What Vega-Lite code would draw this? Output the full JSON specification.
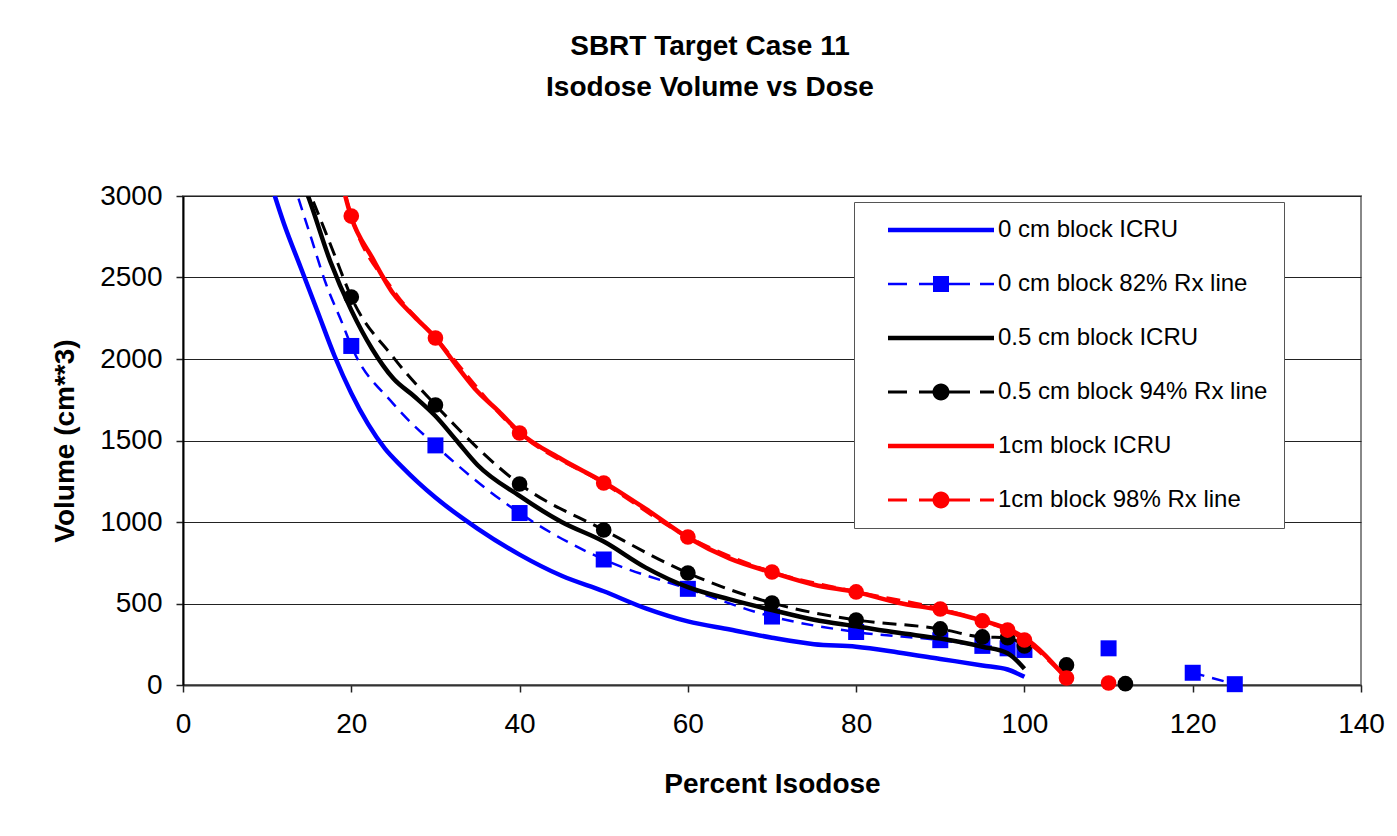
{
  "$schema": "https://vega.github.io/schema/vega-lite/v6.json",
  "width": 1178,
  "height": 489,
  "autosize": {"type": "none"},
  "padding": {"left": 183, "top": 196, "right": 36, "bottom": 151},
  "background": "white",
  "title": {
    "text": ["SBRT Target Case 11", "Isodose Volume vs Dose"],
    "font": "Liberation Sans",
    "fontSize": 28,
    "fontWeight": "bold",
    "lineHeight": 41,
    "anchor": "middle",
    "dx": -62,
    "offset": 80,
    "color": "black"
  },
  "datasets": {
    "curves": [
      {"series": "0 cm block ICRU", "dose": 10, "volume": 3150},
      {"series": "0 cm block ICRU", "dose": 12, "volume": 2830},
      {"series": "0 cm block ICRU", "dose": 14, "volume": 2560},
      {"series": "0 cm block ICRU", "dose": 16, "volume": 2290},
      {"series": "0 cm block ICRU", "dose": 18, "volume": 2020},
      {"series": "0 cm block ICRU", "dose": 20, "volume": 1790},
      {"series": "0 cm block ICRU", "dose": 22, "volume": 1600},
      {"series": "0 cm block ICRU", "dose": 24, "volume": 1450},
      {"series": "0 cm block ICRU", "dose": 26, "volume": 1340},
      {"series": "0 cm block ICRU", "dose": 28, "volume": 1240},
      {"series": "0 cm block ICRU", "dose": 30, "volume": 1150},
      {"series": "0 cm block ICRU", "dose": 35, "volume": 960},
      {"series": "0 cm block ICRU", "dose": 40, "volume": 800},
      {"series": "0 cm block ICRU", "dose": 45, "volume": 670},
      {"series": "0 cm block ICRU", "dose": 50, "volume": 575},
      {"series": "0 cm block ICRU", "dose": 55, "volume": 470},
      {"series": "0 cm block ICRU", "dose": 60, "volume": 390},
      {"series": "0 cm block ICRU", "dose": 65, "volume": 340},
      {"series": "0 cm block ICRU", "dose": 70, "volume": 290},
      {"series": "0 cm block ICRU", "dose": 75, "volume": 250},
      {"series": "0 cm block ICRU", "dose": 80, "volume": 235},
      {"series": "0 cm block ICRU", "dose": 85, "volume": 200},
      {"series": "0 cm block ICRU", "dose": 90, "volume": 160},
      {"series": "0 cm block ICRU", "dose": 95, "volume": 120},
      {"series": "0 cm block ICRU", "dose": 98, "volume": 95},
      {"series": "0 cm block ICRU", "dose": 100, "volume": 50},

      {"series": "0 cm block 82% Rx line", "dose": 13, "volume": 3100},
      {"series": "0 cm block 82% Rx line", "dose": 15, "volume": 2780},
      {"series": "0 cm block 82% Rx line", "dose": 17, "volume": 2460},
      {"series": "0 cm block 82% Rx line", "dose": 19, "volume": 2210},
      {"series": "0 cm block 82% Rx line", "dose": 20, "volume": 2080},
      {"series": "0 cm block 82% Rx line", "dose": 25, "volume": 1725},
      {"series": "0 cm block 82% Rx line", "dose": 30, "volume": 1470},
      {"series": "0 cm block 82% Rx line", "dose": 40, "volume": 1055},
      {"series": "0 cm block 82% Rx line", "dose": 50, "volume": 770},
      {"series": "0 cm block 82% Rx line", "dose": 60, "volume": 590},
      {"series": "0 cm block 82% Rx line", "dose": 70, "volume": 420},
      {"series": "0 cm block 82% Rx line", "dose": 80, "volume": 325},
      {"series": "0 cm block 82% Rx line", "dose": 90, "volume": 275},
      {"series": "0 cm block 82% Rx line", "dose": 95, "volume": 240},
      {"series": "0 cm block 82% Rx line", "dose": 98, "volume": 225},
      {"series": "0 cm block 82% Rx line", "dose": 100, "volume": 215},
      {"series": "0 cm block 82% Rx line", "dose": 104, "volume": null},
      {"series": "0 cm block 82% Rx line", "dose": 110, "volume": 225},
      {"series": "0 cm block 82% Rx line", "dose": 115, "volume": null},
      {"series": "0 cm block 82% Rx line", "dose": 120, "volume": 75},
      {"series": "0 cm block 82% Rx line", "dose": 125, "volume": 5},

      {"series": "0.5 cm block ICRU", "dose": 14, "volume": 3120},
      {"series": "0.5 cm block ICRU", "dose": 15, "volume": 2980},
      {"series": "0.5 cm block ICRU", "dose": 17.5, "volume": 2600},
      {"series": "0.5 cm block ICRU", "dose": 20, "volume": 2300},
      {"series": "0.5 cm block ICRU", "dose": 22.5, "volume": 2060},
      {"series": "0.5 cm block ICRU", "dose": 25, "volume": 1880},
      {"series": "0.5 cm block ICRU", "dose": 27.5, "volume": 1770},
      {"series": "0.5 cm block ICRU", "dose": 30, "volume": 1650},
      {"series": "0.5 cm block ICRU", "dose": 32.5, "volume": 1500},
      {"series": "0.5 cm block ICRU", "dose": 35, "volume": 1350},
      {"series": "0.5 cm block ICRU", "dose": 40, "volume": 1160},
      {"series": "0.5 cm block ICRU", "dose": 45, "volume": 1000},
      {"series": "0.5 cm block ICRU", "dose": 50, "volume": 880},
      {"series": "0.5 cm block ICRU", "dose": 55, "volume": 720},
      {"series": "0.5 cm block ICRU", "dose": 60, "volume": 600},
      {"series": "0.5 cm block ICRU", "dose": 65, "volume": 525},
      {"series": "0.5 cm block ICRU", "dose": 70, "volume": 460},
      {"series": "0.5 cm block ICRU", "dose": 75, "volume": 400},
      {"series": "0.5 cm block ICRU", "dose": 80, "volume": 360},
      {"series": "0.5 cm block ICRU", "dose": 85, "volume": 320},
      {"series": "0.5 cm block ICRU", "dose": 90, "volume": 285},
      {"series": "0.5 cm block ICRU", "dose": 95, "volume": 235},
      {"series": "0.5 cm block ICRU", "dose": 98, "volume": 195},
      {"series": "0.5 cm block ICRU", "dose": 100, "volume": 100},

      {"series": "0.5 cm block 94% Rx line", "dose": 14.5, "volume": 3090},
      {"series": "0.5 cm block 94% Rx line", "dose": 16, "volume": 2900},
      {"series": "0.5 cm block 94% Rx line", "dose": 18, "volume": 2640},
      {"series": "0.5 cm block 94% Rx line", "dose": 20, "volume": 2380},
      {"series": "0.5 cm block 94% Rx line", "dose": 25, "volume": 2010},
      {"series": "0.5 cm block 94% Rx line", "dose": 30, "volume": 1718},
      {"series": "0.5 cm block 94% Rx line", "dose": 40, "volume": 1233},
      {"series": "0.5 cm block 94% Rx line", "dose": 50, "volume": 951},
      {"series": "0.5 cm block 94% Rx line", "dose": 60, "volume": 687},
      {"series": "0.5 cm block 94% Rx line", "dose": 70, "volume": 503},
      {"series": "0.5 cm block 94% Rx line", "dose": 80, "volume": 399},
      {"series": "0.5 cm block 94% Rx line", "dose": 90, "volume": 344},
      {"series": "0.5 cm block 94% Rx line", "dose": 95, "volume": 295},
      {"series": "0.5 cm block 94% Rx line", "dose": 98, "volume": 290},
      {"series": "0.5 cm block 94% Rx line", "dose": 100, "volume": 240},
      {"series": "0.5 cm block 94% Rx line", "dose": 103, "volume": null},
      {"series": "0.5 cm block 94% Rx line", "dose": 105, "volume": 123},
      {"series": "0.5 cm block 94% Rx line", "dose": 108, "volume": null},
      {"series": "0.5 cm block 94% Rx line", "dose": 112, "volume": 8},

      {"series": "1cm block ICRU", "dose": 18, "volume": 3280},
      {"series": "1cm block ICRU", "dose": 20, "volume": 2870},
      {"series": "1cm block ICRU", "dose": 22.5, "volume": 2620},
      {"series": "1cm block ICRU", "dose": 25, "volume": 2400},
      {"series": "1cm block ICRU", "dose": 27.5, "volume": 2260},
      {"series": "1cm block ICRU", "dose": 30, "volume": 2130},
      {"series": "1cm block ICRU", "dose": 32.5, "volume": 1960},
      {"series": "1cm block ICRU", "dose": 35, "volume": 1800},
      {"series": "1cm block ICRU", "dose": 37.5, "volume": 1680},
      {"series": "1cm block ICRU", "dose": 40, "volume": 1550},
      {"series": "1cm block ICRU", "dose": 45, "volume": 1385},
      {"series": "1cm block ICRU", "dose": 50, "volume": 1245},
      {"series": "1cm block ICRU", "dose": 55, "volume": 1080},
      {"series": "1cm block ICRU", "dose": 60, "volume": 905},
      {"series": "1cm block ICRU", "dose": 65, "volume": 775},
      {"series": "1cm block ICRU", "dose": 70, "volume": 690},
      {"series": "1cm block ICRU", "dose": 75, "volume": 615},
      {"series": "1cm block ICRU", "dose": 80, "volume": 570},
      {"series": "1cm block ICRU", "dose": 85, "volume": 505},
      {"series": "1cm block ICRU", "dose": 90, "volume": 460},
      {"series": "1cm block ICRU", "dose": 95, "volume": 395},
      {"series": "1cm block ICRU", "dose": 98, "volume": 345},
      {"series": "1cm block ICRU", "dose": 100, "volume": 290},
      {"series": "1cm block ICRU", "dose": 105, "volume": 40},

      {"series": "1cm block 98% Rx line", "dose": 18, "volume": 3260},
      {"series": "1cm block 98% Rx line", "dose": 20, "volume": 2877},
      {"series": "1cm block 98% Rx line", "dose": 25, "volume": 2420},
      {"series": "1cm block 98% Rx line", "dose": 30, "volume": 2129},
      {"series": "1cm block 98% Rx line", "dose": 40, "volume": 1546},
      {"series": "1cm block 98% Rx line", "dose": 50, "volume": 1239},
      {"series": "1cm block 98% Rx line", "dose": 60, "volume": 908},
      {"series": "1cm block 98% Rx line", "dose": 70, "volume": 693},
      {"series": "1cm block 98% Rx line", "dose": 80, "volume": 571},
      {"series": "1cm block 98% Rx line", "dose": 90, "volume": 466},
      {"series": "1cm block 98% Rx line", "dose": 95, "volume": 393},
      {"series": "1cm block 98% Rx line", "dose": 98, "volume": 337},
      {"series": "1cm block 98% Rx line", "dose": 100, "volume": 276},
      {"series": "1cm block 98% Rx line", "dose": 105, "volume": 43},
      {"series": "1cm block 98% Rx line", "dose": 107, "volume": null},
      {"series": "1cm block 98% Rx line", "dose": 110, "volume": 12}
    ]
  },
  "data": {"name": "curves"},
  "encoding": {
    "x": {
      "field": "dose", "type": "quantitative",
      "scale": {"domain": [0, 140], "nice": false, "zero": false},
      "axis": {
        "title": "Percent Isodose",
        "values": [0, 20, 40, 60, 80, 100, 120, 140],
        "grid": false,
        "tickSize": 7, "tickColor": "#222", "tickWidth": 1.5,
        "domainColor": "#333", "domainWidth": 2,
        "labelFont": "Liberation Sans", "labelFontSize": 28, "labelColor": "black", "labelPadding": 18,
        "labelFlush": false, "labelOverlap": false,
        "titleFont": "Liberation Sans", "titleFontSize": 28, "titleFontWeight": "bold", "titleColor": "black", "titlePadding": 32
      }
    },
    "y": {
      "field": "volume", "type": "quantitative",
      "scale": {"domain": [0, 3000], "nice": false},
      "axis": {
        "title": "Volume (cm**3)",
        "values": [0, 500, 1000, 1500, 2000, 2500, 3000],
        "format": "d",
        "grid": true, "gridColor": "#222", "gridWidth": 1.2,
        "tickSize": 7, "tickColor": "#222", "tickWidth": 1.5,
        "domainColor": "#000", "domainWidth": 2,
        "labelFont": "Liberation Sans", "labelFontSize": 28, "labelColor": "black", "labelPadding": 14,
        "labelFlush": false, "labelOverlap": false,
        "titleFont": "Liberation Sans", "titleFontSize": 28, "titleFontWeight": "bold", "titleColor": "black", "titlePadding": 20
      }
    }
  },
  "layer": [
    {
      "transform": [{"filter": "false"}],
      "mark": {"type": "point", "filled": true, "opacity": 1},
      "encoding": {
        "color": {
          "field": "series", "type": "nominal",
          "scale": {
            "domain": ["0 cm block ICRU", "0 cm block 82% Rx line", "0.5 cm block ICRU", "0.5 cm block 94% Rx line", "1cm block ICRU", "1cm block 98% Rx line"],
            "range": ["#0000FF", "#0000FF", "#000000", "#000000", "#FF0000", "#FF0000"]
          },
          "legend": {"title": null}
        },
        "shape": {
          "field": "series", "type": "nominal",
          "scale": {
            "domain": ["0 cm block ICRU", "0 cm block 82% Rx line", "0.5 cm block ICRU", "0.5 cm block 94% Rx line", "1cm block ICRU", "1cm block 98% Rx line"],
            "range": [
              "M-5.3,-0.23H5.3V0.23H-5.3Z",
              "M-5.3,-0.12H-3.4V0.12H-5.3Z M-2.2,-0.12H-0.8V0.12H-2.2Z M-0.8,-0.8H0.8V0.8H-0.8Z M0.8,-0.12H2.9V0.12H0.8Z M3.9,-0.12H5.3V0.12H3.9Z",
              "M-5.3,-0.23H5.3V0.23H-5.3Z",
              "M-5.3,-0.14H-3.4V0.14H-5.3Z M-2.2,-0.14H-0.8V0.14H-2.2Z M0.85,0A0.85,0.85 0 1,1 -0.85,0A0.85,0.85 0 1,1 0.85,0Z M0.8,-0.14H2.9V0.14H0.8Z M3.9,-0.14H5.3V0.14H3.9Z",
              "M-5.3,-0.23H5.3V0.23H-5.3Z",
              "M-5.3,-0.14H-3.4V0.14H-5.3Z M-2.2,-0.14H-0.8V0.14H-2.2Z M0.85,0A0.85,0.85 0 1,1 -0.85,0A0.85,0.85 0 1,1 0.85,0Z M0.8,-0.14H2.9V0.14H0.8Z M3.9,-0.14H5.3V0.14H3.9Z"
            ]
          },
          "legend": {"title": null}
        }
      }
    },
    {
      "transform": [{"filter": {"field": "series", "equal": "0 cm block ICRU"}}],
      "mark": {"type": "line", "color": "#0000FF", "strokeWidth": 4.5, "clip": true, "interpolate": "monotone"}
    },
    {
      "transform": [{"filter": {"field": "series", "equal": "0 cm block 82% Rx line"}}],
      "mark": {"type": "line", "color": "#0000FF", "strokeWidth": 2.5, "strokeDash": [12, 8], "clip": true, "interpolate": "monotone", "invalid": "break-paths-filter-domains"}
    },
    {
      "transform": [
        {"filter": {"field": "series", "equal": "0 cm block 82% Rx line"}},
        {"filter": {"field": "dose", "oneOf": [20, 30, 40, 50, 60, 70, 80, 90, 95, 98, 100, 105, 110, 112, 120, 125]}}
      ],
      "mark": {"type": "square", "color": "#0000FF", "filled": true, "opacity": 1, "size": 256}
    },
    {
      "transform": [{"filter": {"field": "series", "equal": "0.5 cm block ICRU"}}],
      "mark": {"type": "line", "color": "#000000", "strokeWidth": 4.5, "clip": true, "interpolate": "monotone"}
    },
    {
      "transform": [{"filter": {"field": "series", "equal": "0.5 cm block 94% Rx line"}}],
      "mark": {"type": "line", "color": "#000000", "strokeWidth": 3, "strokeDash": [14, 8], "clip": true, "interpolate": "monotone", "invalid": "break-paths-filter-domains"}
    },
    {
      "transform": [
        {"filter": {"field": "series", "equal": "0.5 cm block 94% Rx line"}},
        {"filter": {"field": "dose", "oneOf": [20, 30, 40, 50, 60, 70, 80, 90, 95, 98, 100, 105, 110, 112, 120, 125]}}
      ],
      "mark": {"type": "circle", "color": "#000000", "opacity": 1, "size": 245}
    },
    {
      "transform": [{"filter": {"field": "series", "equal": "1cm block ICRU"}}],
      "mark": {"type": "line", "color": "#FF0000", "strokeWidth": 4.5, "clip": true, "interpolate": "monotone"}
    },
    {
      "transform": [{"filter": {"field": "series", "equal": "1cm block 98% Rx line"}}],
      "mark": {"type": "line", "color": "#FF0000", "strokeWidth": 3.5, "strokeDash": [14, 8], "clip": true, "interpolate": "monotone", "invalid": "break-paths-filter-domains"}
    },
    {
      "transform": [
        {"filter": {"field": "series", "equal": "1cm block 98% Rx line"}},
        {"filter": {"field": "dose", "oneOf": [20, 30, 40, 50, 60, 70, 80, 90, 95, 98, 100, 105, 110, 112, 120, 125]}}
      ],
      "mark": {"type": "circle", "color": "#FF0000", "opacity": 1, "size": 245}
    }
  ],
  "config": {
    "view": {"stroke": "#888", "strokeWidth": 2},
    "font": "Liberation Sans",
    "legend": {
      "orient": "none",
      "legendX": 671,
      "legendY": 6,
      "padding": 16,
      "rowPadding": 30,
      "symbolSize": 400,
      "symbolStrokeWidth": 0,
      "symbolOpacity": 1,
      "symbolOffset": 59,
      "labelOffset": 45,
      "labelFont": "Liberation Sans",
      "labelFontSize": 24,
      "labelColor": "black",
      "labelLimit": 400,
      "strokeColor": "#555",
      "fillColor": "white"
    }
  }
}
